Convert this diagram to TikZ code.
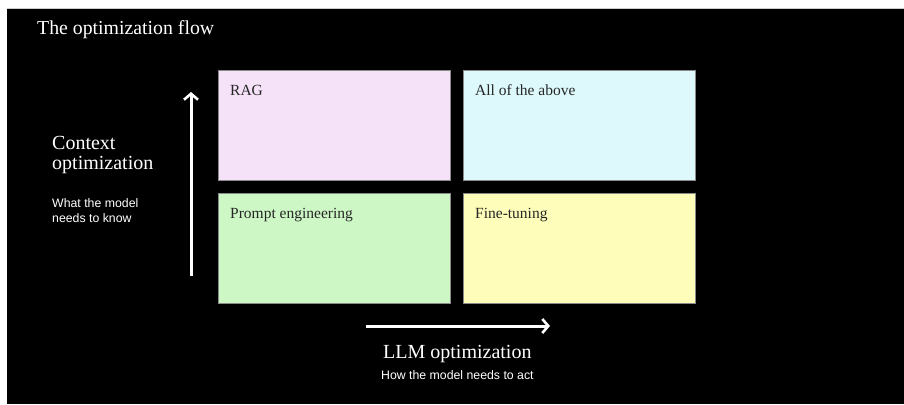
\documentclass[tikz,border=0pt]{standalone}
\usepackage{fontspec}
\setmainfont{Liberation Serif}
\newfontfamily\labelsans{Liberation Sans}
\usetikzlibrary{arrows.meta}
\definecolor{ragc}{HTML}{F5E2F9}
\definecolor{allc}{HTML}{DDF9FC}
\definecolor{promptc}{HTML}{CEF7C6}
\definecolor{finec}{HTML}{FEFEBA}
\definecolor{boxline}{HTML}{8A8A8A}
\tikzset{
  quad/.style={draw=boxline, line width=0.6pt, minimum width=232pt, minimum height=110pt, inner sep=0pt, anchor=north west},
  quadlabel/.style={anchor=base west, inner sep=0pt, font=\fontsize{15.5}{18}\selectfont, text=black!85},
  axisarrow/.style={draw=white, line width=3pt, -{Straight Barb[length=6pt,width=14pt,line width=2.6pt]}},
  bigserif/.style={text=white, inner sep=0pt, font=\fontsize{20}{20}\selectfont},
  smallsans/.style={text=white, inner sep=0pt, font=\labelsans\fontsize{12.3}{15}\selectfont}
}
\begin{document}
\begin{tikzpicture}[x=1pt,y=-1pt]
\useasboundingbox (0,0) rectangle (904,404);
\fill[white] (0,0) rectangle (904,404);
\fill[black] (7,9) rectangle (904,404);
\draw[black!20, line width=0.8pt] (7,8.5) -- (904,8.5);

\node[bigserif, anchor=base west, font=\fontsize{19.8}{21}\selectfont] (title) at (37,35) {The optimization flow};

\node[quad, fill=ragc] (rag) at (218,70) {};
\node[quad, fill=allc] (all) at (463,70) {};
\node[quad, fill=promptc] (prompt) at (218,193) {};
\node[quad, fill=finec] (fine) at (463,193) {};

\node[quadlabel] (ragl) at (230,95) {RAG};
\node[quadlabel] (alll) at (475,95) {All of the above};
\node[quadlabel] (promptl) at (230,218) {Prompt engineering};
\node[quadlabel] (finel) at (475,218) {Fine-tuning};

\coordinate (vstart) at (191,276);
\coordinate (vend) at (191,92);
\draw[axisarrow] (vstart) -- (vend);
\coordinate (hstart) at (366,326);
\coordinate (hend) at (550,326);
\draw[axisarrow] (hstart) -- (hend);

\node[bigserif, anchor=base west, align=left] (ctx) at (52,169) {Context\\optimization};
\node[smallsans, anchor=base west, align=left] (ctxs) at (52,222) {What the model\\needs to know};

\node[bigserif, anchor=base west] (llm) at (383,358) {LLM optimization};
\node[smallsans, anchor=base west] (llms) at (381,379) {How the model needs to act};
\end{tikzpicture}
\end{document}
